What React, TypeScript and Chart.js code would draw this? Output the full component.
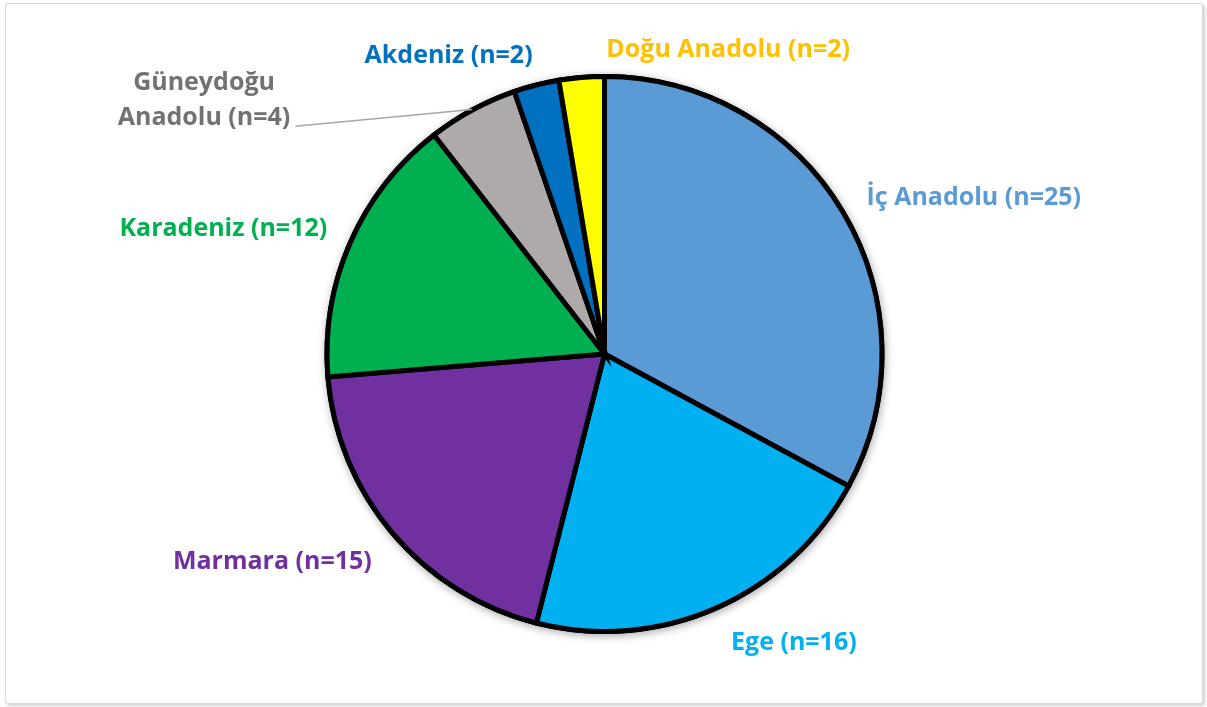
import React, { useEffect, useRef } from "react";
import { Chart, registerables } from "chart.js";

Chart.register(...registerables);

// ---- data ----
const categories = [
  "İç Anadolu",
  "Ege",
  "Marmara",
  "Karadeniz",
  "Güneydoğu Anadolu",
  "Akdeniz",
  "Doğu Anadolu",
];
const counts = [25, 16, 15, 12, 4, 2, 2];

// ---- styles ----
const sliceColors = ["#5B9BD5", "#00B0F0", "#7030A0", "#00B050", "#AEAAAA", "#0070C0", "#FFFF00"];
const labelColors = ["#5B9BD5", "#00B0F0", "#7030A0", "#00B050", "#767171", "#0070C0", "#FFC000"];
const wrapLabel = [false, false, false, false, true, false, false];
const labelNudge: [number, number][] = [
  [0, 4],
  [4, -2.5],
  [0, 1.5],
  [2, 0],
  [-169, 38],
  [3, 6],
  [27, 9],
];
const leaderLine = [false, false, false, false, true, false, false];

const FONT_SIZE = 25;
const FONT = `bold ${FONT_SIZE}px "Open Sans", Lato, sans-serif`;
const CAP_H = FONT_SIZE * 0.714;
const LINE_H = 35;
const GAP = 25;
const BORDER_W = 5;

function labelLinesFor(i: number): string[] {
  const text = `${categories[i]} (n=${counts[i]})`;
  if (!wrapLabel[i]) return [text];
  const sp = text.indexOf(" ");
  return [text.slice(0, sp), text.slice(sp + 1)];
}

const pieShadowPlugin = {
  id: "pieShadow",
  beforeDatasetsDraw(chart: any) {
    const meta = chart.getDatasetMeta(0);
    const arc = meta.data[0];
    if (!arc) return;
    const { x, y, outerRadius } = arc.getProps(["x", "y", "outerRadius"], true);
    const ctx = chart.ctx;
    ctx.save();
    ctx.shadowColor = "rgba(0,0,0,0.35)";
    ctx.shadowBlur = 9;
    ctx.shadowOffsetX = 1;
    ctx.shadowOffsetY = 2;
    ctx.fillStyle = "#000";
    ctx.beginPath();
    ctx.arc(x, y, outerRadius + BORDER_W / 2, 0, Math.PI * 2);
    ctx.fill();
    ctx.restore();
  },
};

const outsideLabelsPlugin = {
  id: "outsideLabels",
  afterDatasetsDraw(chart: any) {
    const ctx = chart.ctx;
    const meta = chart.getDatasetMeta(0);
    ctx.save();
    ctx.font = FONT;
    meta.data.forEach((el: any, i: number) => {
      const { x, y, startAngle, endAngle, outerRadius } = el.getProps(
        ["x", "y", "startAngle", "endAngle", "outerRadius"],
        true
      );
      const mid = (startAngle + endAngle) / 2;
      const c = Math.cos(mid);
      const s = Math.sin(mid);
      const rEdge = outerRadius + BORDER_W / 2;
      const ax = x + c * (rEdge + GAP);
      const ay = y + s * (rEdge + GAP);
      const lines = labelLinesFor(i);
      const w = Math.max(...lines.map((l) => ctx.measureText(l).width));
      const h = 22 + (lines.length - 1) * LINE_H;
      let cx = ax + (Math.abs(c) < 0.1 ? w / 2 : Math.sign(c) * (w / 2));
      let cy = ay + (s * h) / 2;
      cx += labelNudge[i][0];
      cy += labelNudge[i][1];
      ctx.fillStyle = labelColors[i];
      ctx.textAlign = "center";
      ctx.textBaseline = "alphabetic";
      lines.forEach((l, k) => {
        const lineCenter = cy - ((lines.length - 1) * LINE_H) / 2 + k * LINE_H;
        ctx.fillText(l, cx, lineCenter + CAP_H / 2);
      });
      if (leaderLine[i]) {
        const lastW = ctx.measureText(lines[lines.length - 1]).width;
        const lastCenter = cy + ((lines.length - 1) * LINE_H) / 2;
        ctx.strokeStyle = "#A6A6A6";
        ctx.lineWidth = 1.5;
        ctx.beginPath();
        ctx.moveTo(cx + lastW / 2 + 5, lastCenter + 10);
        ctx.lineTo(x + c * (rEdge - 2), y + s * (rEdge - 2));
        ctx.stroke();
      }
    });
    ctx.restore();
  },
};

export default function App() {
  const canvasRef = useRef<HTMLCanvasElement | null>(null);

  useEffect(() => {
    if (!canvasRef.current) return;
    const chart = new Chart(canvasRef.current, {
      type: "pie",
      data: {
        labels: categories,
        datasets: [
          {
            data: counts,
            backgroundColor: sliceColors,
            borderColor: "#000000",
            borderWidth: BORDER_W,
            borderJoinStyle: "miter",
          } as any,
        ],
      },
      options: {
        responsive: false,
        animation: false,
        layout: { padding: { top: 74, bottom: 73, left: 2, right: 0 } },
        plugins: {
          legend: { display: false },
          tooltip: { enabled: false },
          title: { display: false },
        },
      },
      plugins: [pieShadowPlugin, outsideLabelsPlugin],
    });
    return () => chart.destroy();
  }, []);

  return (
    <div
      style={{
        position: "fixed",
        left: 0,
        top: 0,
        width: 1207,
        height: 707,
        background: "#ffffff",
      }}
    >
      <div
        style={{
          position: "absolute",
          left: 5,
          top: 3,
          width: 1196,
          height: 699,
          border: "1px solid #D9D9D9",
          borderRadius: 2,
          boxShadow: "2px 2px 3px rgba(0,0,0,0.18)",
          background: "#fff",
        }}
      />
      <canvas
        ref={canvasRef}
        width={1207}
        height={707}
        style={{ position: "absolute", left: 0, top: 0, width: 1207, height: 707 }}
      />
    </div>
  );
}
